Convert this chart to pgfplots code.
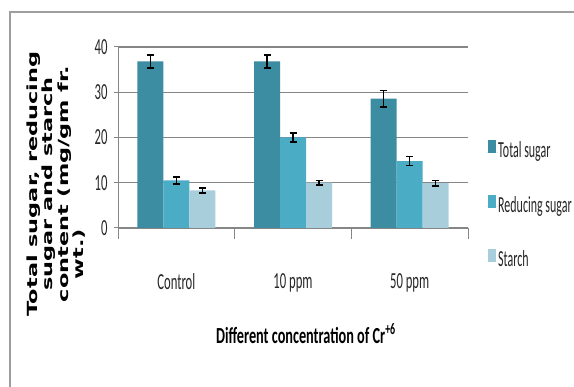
\documentclass[border=0pt]{standalone}
\usepackage{fontspec}
\setmainfont{Carlito}[FakeStretch=0.55]
\newfontfamily\legfont{Carlito}[FakeStretch=0.52]
\newfontfamily\xlabfont{Carlito}[FakeStretch=0.62]
\newfontfamily\labfont{DejaVu Sans}[FakeStretch=1.6]
\usepackage{pgfplots}
\usepackage{pgfplotstable}
\pgfplotsset{compat=1.18}
\definecolor{cTot}{RGB}{60,140,162}
\definecolor{cRed}{RGB}{75,172,198}
\definecolor{cSta}{RGB}{168,206,220}
\definecolor{cGrid}{RGB}{134,134,134}
\pgfplotstableread{
x tot tote red rede sta stae
0 36.8 1.4 10.5 0.8 8.3 0.6
1 36.8 1.4 20.0 1.0 10.0 0.5
2 28.6 1.8 14.8 1.0 9.9 0.6
}\datatab
\pgfplotsset{myerr/.style={error bars/.cd, y dir=both, y explicit,
  error bar style={line width=1.6bp, black},
  error mark options={rotate=90, mark size=3.5bp, line width=1.6bp, black}}}
\begin{document}
\begin{tikzpicture}
\useasboundingbox (0,0) rectangle (574bp,387bp);
\fill[white] (0,0) rectangle (574bp,387bp);
\draw[cGrid!80, line width=1.5bp] (10bp,0) -- (10bp,375bp) -- (574bp,375bp);
\begin{axis}[
  at={(118bp,159bp)}, anchor=south west,
  scale only axis, width=350bp, height=181bp,
  xmin=-0.5, xmax=2.5, ymin=0, ymax=40,
  axis lines=left,
  axis line style={draw=cGrid, line width=1bp, -},
  ybar=0pt, bar width=26bp,
  xtick={0,1,2}, xticklabels={Control,10 ppm,50 ppm},
  x tick style={draw=none},
  ytick={0,10,20,30,40},
  y tick style={draw=cGrid, line width=1bp},
  major tick length=4bp, tick align=outside,
  ymajorgrids, grid style={draw=cGrid, line width=1.2bp},
  /pgf/number format/assume math mode=true,
  tick label style={font=\fontsize{23bp}{26bp}\selectfont, text=black!85},
  xticklabel style={yshift=-38bp},
  yticklabel style={xshift=-3bp},
  clip=false,
  every axis x label/.style={at={(rel axis cs:0.537,0)}, anchor=base, yshift=-115bp,
     font=\xlabfont\fontsize{23bp}{26bp}\selectfont\bfseries},
  xlabel={Different concentration of Cr\textsuperscript{+6}},
  every axis y label/.style={at={(rel axis cs:0,0.243)}, xshift=-62bp, rotate=90, anchor=center, align=center,
     font=\labfont\bfseries\fontsize{14bp}{15.5bp}\selectfont},
  ylabel={Total sugar, reducing\\sugar and starch\\content (mg/gm fr.\\wt.)\hspace*{140bp}},
  legend style={at={(rel axis cs:1,1)}, anchor=north west, xshift=18bp, yshift=-93bp,
     draw=none, fill=none, inner sep=0pt, row sep=33bp,
     font=\legfont\fontsize{23bp}{26bp}\selectfont,
     nodes={text height=15bp, text depth=4bp, inner sep=0pt, text=black!85}},
  legend cell align=left,
  legend image code/.code={\path (0bp,0bp) -- (12bp,0bp);\fill[#1,draw=none] (2bp,-1bp) rectangle (10bp,12bp);},
]
\addplot[fill=cTot, draw=none, myerr] table[x=x, y=tot, y error=tote] {\datatab};
\addplot[fill=cRed, draw=none, myerr] table[x=x, y=red, y error=rede] {\datatab};
\addplot[fill=cSta, draw=none, myerr] table[x=x, y=sta, y error=stae] {\datatab};
\legend{Total sugar,Reducing sugar,Starch}
\pgfplotsinvokeforeach{-0.5,0.5,1.5,2.5}{\draw[cGrid, line width=1bp] (axis cs:#1,0) -- ([yshift=-11bp]axis cs:#1,0);}
\end{axis}
\end{tikzpicture}
\end{document}
